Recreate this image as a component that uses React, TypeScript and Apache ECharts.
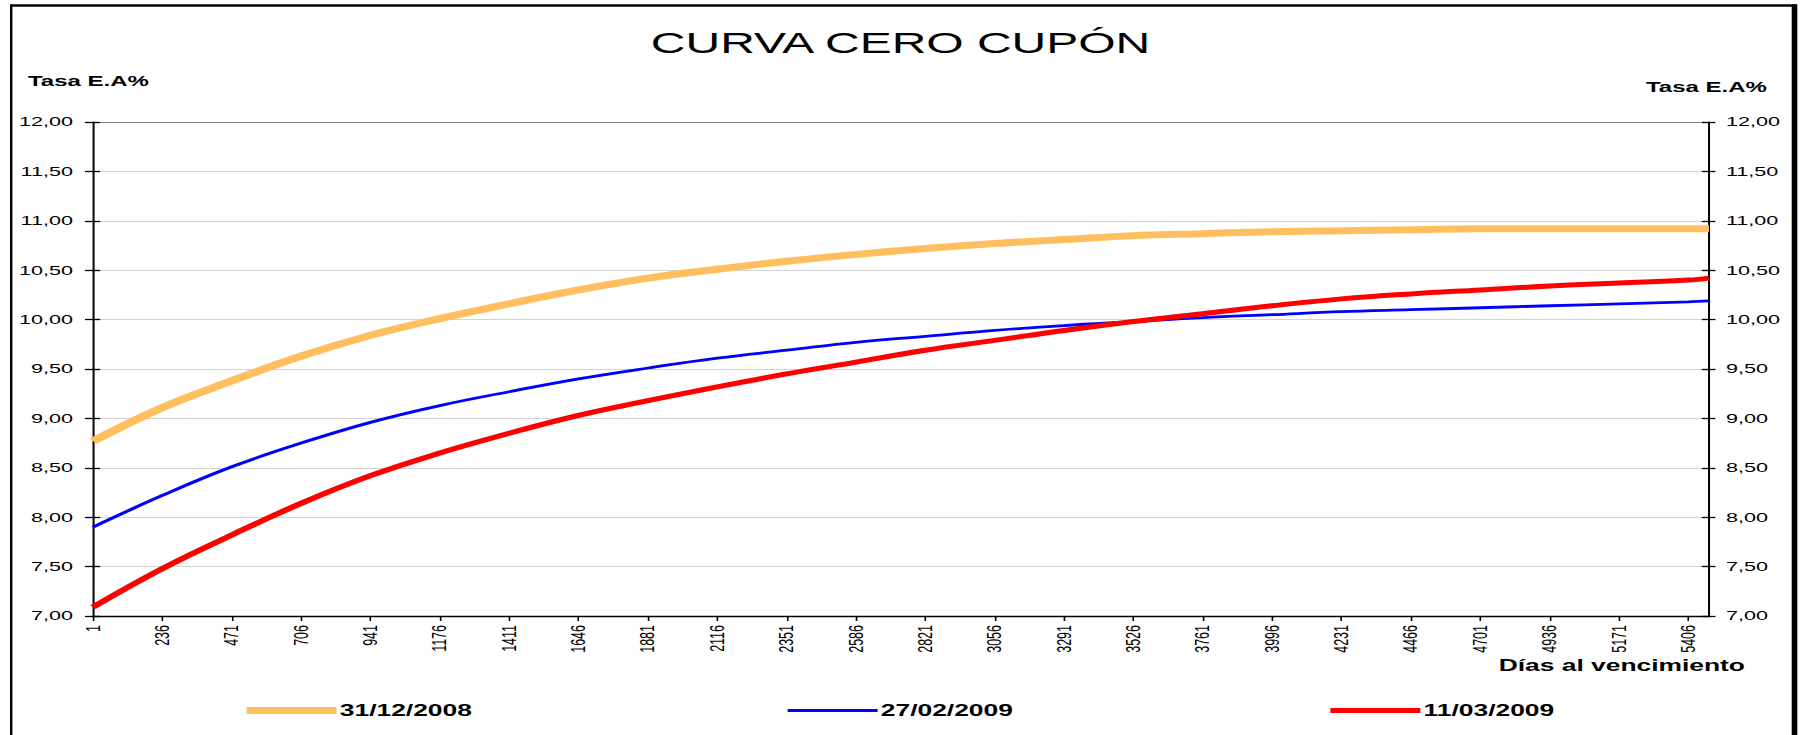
import React, { useEffect, useRef } from "react";
import * as echarts from "echarts";

// ---- data ----
const seriesNames = ["31/12/2008", "27/02/2009", "11/03/2009"];
const days = [1, 236, 471, 706, 941, 1176, 1411, 1646, 1881, 2116, 2351, 2586, 2821, 3056, 3291, 3526, 3761, 3996, 4231, 4466, 4701, 4936, 5171, 5406, 5476];
const curve20081231 = [8.77, 9.11, 9.38, 9.63, 9.84, 10.01, 10.16, 10.3, 10.42, 10.51, 10.59, 10.66, 10.72, 10.77, 10.81, 10.85, 10.87, 10.89, 10.9, 10.91, 10.92, 10.92, 10.92, 10.92, 10.92];
const curve20090227 = [7.9, 8.22, 8.51, 8.75, 8.96, 9.13, 9.27, 9.4, 9.51, 9.61, 9.69, 9.77, 9.83, 9.89, 9.94, 9.98, 10.02, 10.05, 10.08, 10.1, 10.12, 10.14, 10.16, 10.18, 10.19];
const curve20090311 = [7.09, 7.48, 7.82, 8.14, 8.42, 8.65, 8.85, 9.03, 9.18, 9.32, 9.45, 9.57, 9.69, 9.79, 9.89, 9.98, 10.06, 10.14, 10.21, 10.26, 10.3, 10.34, 10.37, 10.4, 10.42];
const xTickLabels = ["1", "236", "471", "706", "941", "1176", "1411", "1646", "1881", "2116", "2351", "2586", "2821", "3056", "3291", "3526", "3761", "3996", "4231", "4466", "4701", "4936", "5171", "5406"];
const yTickLabels = ["7,00", "7,50", "8,00", "8,50", "9,00", "9,50", "10,00", "10,50", "11,00", "11,50", "12,00"];

const TITLE = "CURVA CERO CUPÓN";
const Y_NAME = "Tasa E.A%";
const X_NAME = "Días al vencimiento";

// ---- layout ----
const W = 1801;
const H = 735;
const CHART_W = 1126;
const S = W / CHART_W; // horizontal stretch of the reference
const fx = (x: number) => x / S;
const FONT = "'Liberation Sans', Arial, Helvetica, sans-serif";
const DAY_STEP = 235;
const X_MAX = 5475; // days-1 offset axis
const Y_MIN = 7;
const Y_MAX = 12;
const Y_STEP = 0.5;

const colors = ["#FFBF5E", "#0000FF", "#FF0000"];
const widths = [7, 2.8, 5];
const curves = [curve20081231, curve20090227, curve20090311];

function buildOption(): any {
  const yLabel = (v: number) => {
    const i = Math.round((v - Y_MIN) / Y_STEP);
    return yTickLabels[i] ?? "";
  };
  const xLabel = (v: number) => {
    const i = v / DAY_STEP;
    return Number.isInteger(i) ? xTickLabels[i] ?? "" : "";
  };
  const yBase = { type: "value", min: Y_MIN, max: Y_MAX, interval: Y_STEP };
  const blackLine = { show: true, onZero: false, lineStyle: { color: "#000", width: 1.25 } };
  return {
    animation: false,
    backgroundColor: "#fff",
    textStyle: { fontFamily: FONT },
    title: {
      text: TITLE,
      left: "center",
      top: 22,
      textStyle: { fontSize: 30, fontWeight: "normal", color: "#000", fontFamily: FONT },
    },
    grid: { left: fx(93), right: CHART_W - fx(1709), top: 122, bottom: H - 616, containLabel: false },
    xAxis: [
      {
        type: "value",
        min: 0,
        max: X_MAX,
        interval: DAY_STEP,
        position: "bottom",
        axisLine: { show: true, onZero: false, lineStyle: { color: "#000", width: 1.3 } },
        axisTick: { show: true, length: 5, lineStyle: { color: "#000", width: 1 } },
        axisLabel: {
          rotate: 90,
          margin: 9,
          fontSize: 12.5,
          color: "#000",
          fontFamily: FONT,
          formatter: xLabel,
          showMaxLabel: false,
          showMinLabel: true,
        },
        splitLine: { show: false },
      },
      {
        type: "value",
        min: 0,
        max: X_MAX,
        position: "top",
        axisLine: { show: true, onZero: false, lineStyle: { color: "#7F7F7F", width: 1.2 } },
        axisTick: { show: false },
        axisLabel: { show: false },
        splitLine: { show: false },
      },
    ],
    yAxis: [
      {
        ...yBase,
        position: "left",
        axisLine: blackLine,
        axisTick: { show: true, inside: false, length: 5, lineStyle: { color: "#000", width: 1.3 } },
        axisLabel: { margin: 12.5, fontSize: 13.5, color: "#000", fontFamily: FONT, formatter: yLabel },
        splitLine: { show: true, lineStyle: { color: "#D4D4D4", width: 1 } },
      },
      {
        ...yBase,
        position: "right",
        axisLine: blackLine,
        axisTick: { show: true, inside: false, length: 4, lineStyle: { color: "#000", width: 1.3 } },
        axisLabel: { margin: 10.6, fontSize: 13.5, color: "#000", fontFamily: FONT, formatter: yLabel },
        splitLine: { show: false },
      },
      {
        ...yBase,
        position: "left",
        axisLine: { show: false, onZero: false },
        axisTick: { show: true, inside: true, length: 4.5, lineStyle: { color: "#000", width: 1.3 } },
        axisLabel: { show: false },
        splitLine: { show: false },
      },
      {
        ...yBase,
        position: "right",
        axisLine: { show: false, onZero: false },
        axisTick: { show: true, inside: true, length: 4.5, lineStyle: { color: "#000", width: 1.3 } },
        axisLabel: { show: false },
        splitLine: { show: false },
      },
    ],
    legend: {
      left: fx(241),
      top: 702,
      padding: 0,
      itemWidth: fx(90),
      itemHeight: 12,
      itemGap: 196,
      itemStyle: { opacity: 0 },
      lineStyle: { width: "inherit" },
      textStyle: { fontSize: 16.5, fontWeight: "bold", color: "#000", fontFamily: FONT, padding: [0, 0, 0, -3] },
      data: seriesNames,
    },
    series: seriesNames.map((name, i) => ({
      name,
      type: "line",
      xAxisIndex: 0,
      yAxisIndex: 0,
      data: days.map((d, j) => [d - 1, curves[i][j]]),
      smooth: 0.4,
      symbol: "none",
      showSymbol: false,
      lineStyle: { color: colors[i], width: widths[i] },
      itemStyle: { color: colors[i] },
      z: 3 + i,
    })),
    graphic: [
      { type: "line", silent: true, shape: { x1: fx(10), y1: 5.5, x2: fx(1797), y2: 5.5 }, style: { stroke: "#000", lineWidth: 2.5 } },
      { type: "line", silent: true, shape: { x1: fx(11.2), y1: 4.5, x2: fx(11.2), y2: 745 }, style: { stroke: "#000", lineWidth: 1.5 } },
      { type: "line", silent: true, shape: { x1: fx(1794.5), y1: 4.5, x2: fx(1794.5), y2: 745 }, style: { stroke: "#000", lineWidth: 3.5 } },
      {
        type: "text",
        silent: true,
        x: fx(28),
        y: 81,
        style: { text: Y_NAME, fontSize: 15, fontWeight: "bold", fontFamily: FONT, fill: "#000", align: "left", verticalAlign: "middle" },
      },
      {
        type: "text",
        silent: true,
        x: fx(1646),
        y: 87,
        style: { text: Y_NAME, fontSize: 15, fontWeight: "bold", fontFamily: FONT, fill: "#000", align: "left", verticalAlign: "middle" },
      },
      {
        type: "text",
        silent: true,
        x: fx(1745),
        y: 665,
        style: { text: X_NAME, fontSize: 16.5, fontWeight: "bold", fontFamily: FONT, fill: "#000", align: "right", verticalAlign: "middle" },
      },
    ],
  };
}

export default function App() {
  const ref = useRef<HTMLDivElement>(null);
  useEffect(() => {
    if (!ref.current) return;
    const chart = echarts.init(ref.current, null, { renderer: "svg", width: CHART_W, height: H });
    chart.setOption(buildOption());
    return () => {
      chart.dispose();
    };
  }, []);
  return (
    <div style={{ position: "absolute", left: 0, top: 0, width: W, height: H, overflow: "hidden", background: "#fff" }}>
      <div
        ref={ref}
        style={{ width: CHART_W, height: H, transform: `scaleX(${S})`, transformOrigin: "0 0" }}
      />
    </div>
  );
}
